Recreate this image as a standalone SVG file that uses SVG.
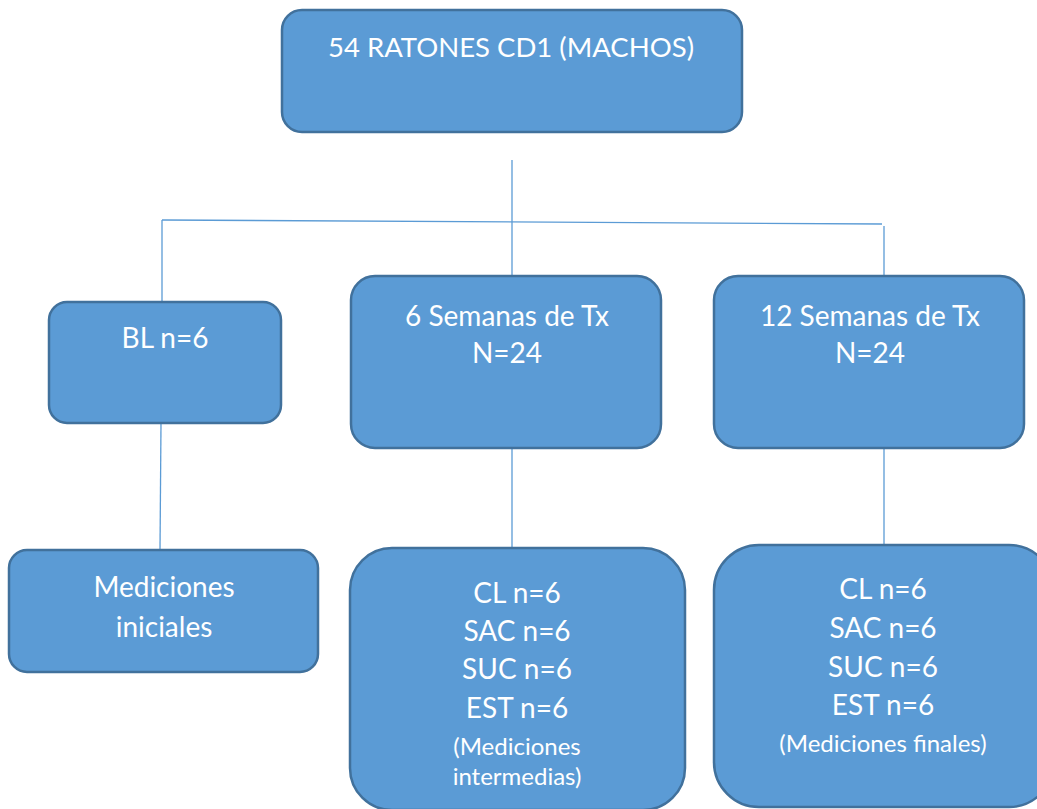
<svg xmlns="http://www.w3.org/2000/svg" width="1037" height="809" viewBox="0 0 1037 809">
<style>
.box{fill:#5b9bd5;stroke:#41719c;stroke-width:2.5}
.t{font-family:Lato,"Liberation Sans",sans-serif;fill:#ffffff;text-anchor:middle;font-size:28px}
.s{font-size:24px}
.c{stroke:#5b9bd5;stroke-width:1.3;fill:none}
</style>
<rect width="1037" height="809" fill="#ffffff"/>
<g id="connectors">
<line class="c" x1="512" y1="160" x2="512" y2="276"/>
<line class="c" x1="162" y1="220" x2="882" y2="224"/>
<line class="c" x1="162" y1="220" x2="162" y2="302"/>
<line class="c" x1="884" y1="226" x2="884" y2="276"/>
<line class="c" x1="161" y1="423" x2="160" y2="550"/>
<line class="c" x1="512" y1="448" x2="512" y2="548"/>
<line class="c" x1="884" y1="448" x2="884" y2="545"/>
</g>
<g id="root">
<rect class="box" x="282" y="10" width="460" height="122" rx="20"/>
<text class="t" x="511" y="57" style="font-size:27.5px">54 RATONES CD1 (MACHOS)</text>
</g>
<g id="bl">
<rect class="box" x="49" y="302" width="232" height="121" rx="18"/>
<text class="t" x="165" y="348">BL n=6</text>
</g>
<g id="w6">
<rect class="box" x="351" y="276" width="310" height="172" rx="24"/>
<text class="t" x="507" y="326">6 Semanas de Tx</text>
<text class="t" x="507" y="363">N=24</text>
</g>
<g id="w12">
<rect class="box" x="714" y="276" width="310" height="172" rx="24"/>
<text class="t" x="870" y="326">12 Semanas de Tx</text>
<text class="t" x="870" y="363">N=24</text>
</g>
<g id="iniciales">
<rect class="box" x="9" y="550" width="309" height="122" rx="18"/>
<text class="t" x="164" y="597">Mediciones</text>
<text class="t" x="164" y="637">iniciales</text>
</g>
<g id="intermedias">
<rect class="box" x="350" y="548" width="335" height="262" rx="42"/>
<text class="t" x="517" y="603">CL n=6</text>
<text class="t" x="517" y="641">SAC n=6</text>
<text class="t" x="517" y="679">SUC n=6</text>
<text class="t" x="517" y="718">EST n=6</text>
<text class="t s" x="517" y="755">(Mediciones</text>
<text class="t s" x="517" y="785">intermedias)</text>
</g>
<g id="finales">
<rect class="box" x="714" y="545" width="340" height="262" rx="45"/>
<text class="t" x="883" y="599">CL n=6</text>
<text class="t" x="883" y="638">SAC n=6</text>
<text class="t" x="883" y="677">SUC n=6</text>
<text class="t" x="883" y="715">EST n=6</text>
<text class="t s" x="883" y="752">(Mediciones finales)</text>
</g>
</svg>
